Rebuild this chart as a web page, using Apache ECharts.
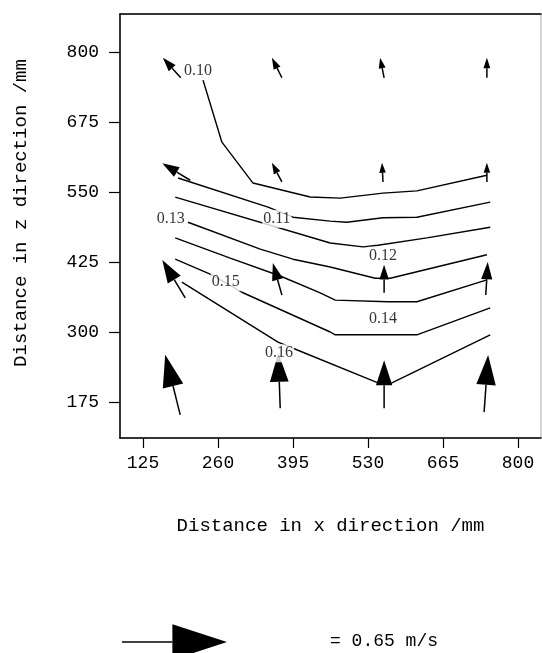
<!DOCTYPE html>
<html>
<head>
<meta charset="utf-8">
<script src="https://cdn.jsdelivr.net/npm/echarts@6/dist/echarts.min.js"></script>
<style>
  html, body { margin: 0; padding: 0; background: #fff; }
  #chart { width: 542px; height: 653px; }
</style>
</head>
<body>
<div id="chart"></div>
<script>
var xTicks = [125, 260, 395, 530, 665, 800];
var zTicks = [175, 300, 425, 550, 675, 800];

// velocity vectors: tail position (mm) and components (m/s)
var arrowX = [193, 375, 559, 744,  210, 375, 557, 744,  201, 375, 559, 742,  192, 372, 559, 739];
var arrowZ = [754, 754, 754, 754,  571, 568, 568, 568,  361, 366, 370, 366,  152, 164, 164, 157];
var arrowU = [-0.111, -0.062, -0.025, 0,  -0.173, -0.062, -0.006, 0,  -0.142, -0.056, 0, 0.012,  -0.093, -0.012, 0, 0.025];
var arrowW = [0.124, 0.124, 0.124, 0.124,  0.105, 0.118, 0.118, 0.118,  0.235, 0.198, 0.173, 0.204,  0.372, 0.341, 0.297, 0.353];

// contour lines (x mm, z mm)
var levels = ['0.10', '0.11', '0.12', '0.13', '0.14', '0.15', '0.16'];
var c010 = [[233, 750], [267, 639], [323, 566], [426, 541], [480, 539], [557, 548], [618, 552], [744, 580]];
var c011 = [[188, 575], [350, 523], [395, 505], [462, 498], [492, 496], [557, 504], [618, 505], [750, 532]];
var c012 = [[183, 541], [462, 459], [521, 452], [548, 455], [636, 468], [750, 487]];
var c013 = [[206, 496], [336, 448], [395, 430], [462, 416], [543, 396], [570, 396], [744, 438]];
var c014 = [[183, 468], [282, 432], [372, 400], [444, 370], [471, 357], [566, 354], [618, 354], [744, 393]];
var c015 = [[183, 430], [249, 402], [303, 371], [462, 300], [471, 295], [618, 295], [750, 343]];
var c016 = [[195, 389], [368, 282], [395, 271], [548, 209], [573, 209], [750, 295]];
var contours = [c010, c011, c012, c013, c014, c015, c016];

// where the level labels sit
var labelX = [224, 366, 557, 175, 557, 274, 370];
var labelZ = [766, 502, 436, 502, 323, 389, 262];

var refSpeed = 0.65;   // m/s, reference arrow
var pxPerMs = 161.5;   // arrow length scale

var monoFont = 'Liberation Mono';

function arrowShape(x0, y0, dx, dy) {
  var len = Math.sqrt(dx * dx + dy * dy);
  var ux = dx / len, uy = dy / len;
  var head = 0.52 * len, half = 0.17 * len;
  var bx = x0 + dx - ux * head, by = y0 + dy - uy * head;
  return {
    shaft: { x1: x0, y1: y0, x2: bx, y2: by },
    head: [[x0 + dx, y0 + dy], [bx - uy * half, by + ux * half], [bx + uy * half, by - ux * half]]
  };
}

var chart = echarts.init(document.getElementById('chart'));

var series = contours.map(function (pts, i) {
  return {
    name: levels[i],
    type: 'line',
    data: pts,
    symbol: 'none',
    silent: true,
    lineStyle: { color: '#000', width: 1.4 },
    z: 2
  };
});

series.push({
  type: 'custom',
  silent: true,
  z: 3,
  data: arrowX.map(function (x, i) { return [x, arrowZ[i], arrowU[i], arrowW[i]]; }),
  renderItem: function (params, api) {
    var p = api.coord([api.value(0), api.value(1)]);
    var a = arrowShape(p[0], p[1], api.value(2) * pxPerMs, -api.value(3) * pxPerMs);
    return {
      type: 'group',
      children: [
        { type: 'line', shape: a.shaft, style: { stroke: '#000', lineWidth: 1.5 } },
        { type: 'polygon', shape: { points: a.head }, style: { fill: '#000' } }
      ]
    };
  }
});

series.push({
  type: 'scatter',
  silent: true,
  symbolSize: 0,
  z: 4,
  data: labelX.map(function (x, i) { return { name: levels[i], value: [x, labelZ[i]] }; }),
  label: {
    show: true,
    position: 'inside',
    formatter: '{b}',
    fontFamily: 'Liberation Serif',
    fontSize: 16,
    color: '#000',
    backgroundColor: '#fff',
    padding: [1, 1]
  }
});

// reference arrow under the plot
var refLen = refSpeed * pxPerMs;
var ref = arrowShape(122, 642, refLen, 0);

chart.setOption({
  animation: false,
  grid: {
    left: 120, top: 14, width: 421, height: 424,
    show: true, borderColor: '#aaa', borderWidth: 1
  },
  xAxis: [{
    type: 'value',
    min: 83.6,
    max: 841.4,
    name: 'Distance in x direction /mm',
    nameLocation: 'middle',
    nameGap: 78,
    nameTextStyle: { fontFamily: monoFont, fontSize: 19, color: '#000' },
    splitLine: { show: false },
    axisLine: { show: true, lineStyle: { color: '#000', width: 1.5 } },
    axisTick: { show: true, length: 10, customValues: xTicks, lineStyle: { color: '#000', width: 1.2 } },
    axisLabel: { customValues: xTicks, margin: 16, fontFamily: monoFont, fontSize: 18, color: '#000' }
  }, {
    // top frame line only
    type: 'value',
    position: 'top',
    min: 83.6,
    max: 841.4,
    splitLine: { show: false },
    axisLine: { show: true, lineStyle: { color: '#000', width: 1.5 } },
    axisTick: { show: false },
    axisLabel: { show: false }
  }],
  yAxis: {
    type: 'value',
    min: 110.7,
    max: 867.9,
    name: 'Distance in z direction /mm',
    nameLocation: 'middle',
    nameGap: 90,
    nameTextStyle: { fontFamily: monoFont, fontSize: 19, color: '#000', padding: [0, 0, 0, 26] },
    splitLine: { show: false },
    axisLine: { show: true, lineStyle: { color: '#000', width: 1.5 } },
    axisTick: { show: true, length: 11, customValues: zTicks, lineStyle: { color: '#000', width: 1.2 } },
    axisLabel: { customValues: zTicks, margin: 21, fontFamily: monoFont, fontSize: 18, color: '#000' }
  },
  graphic: [
    { type: 'line', shape: ref.shaft, style: { stroke: '#000', lineWidth: 1.5 } },
    { type: 'polygon', shape: { points: ref.head }, style: { fill: '#000' } },
    {
      type: 'text', left: 330, top: 632,
      style: { text: '= ' + refSpeed.toFixed(2) + ' m/s', font: '18px ' + monoFont, fill: '#000' }
    }
  ],
  series: series
});
</script>
</body>
</html>
